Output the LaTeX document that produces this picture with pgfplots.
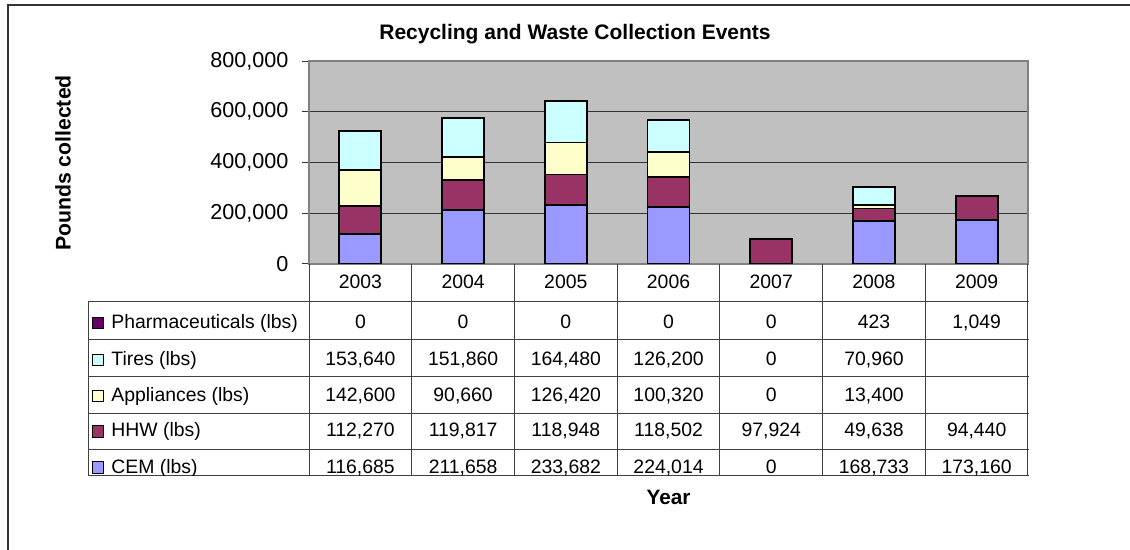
\documentclass[border=0pt]{standalone}
\usepackage{pgfplots}
\pgfplotsset{compat=1.18}
\usepackage{pgfplotstable}
\usepackage{fontspec}
\setmainfont{Liberation Sans}

\definecolor{cem}{HTML}{9999FF}
\definecolor{hhw}{HTML}{993366}
\definecolor{appl}{HTML}{FFFFCC}
\definecolor{tires}{HTML}{CCFFFF}
\definecolor{pharm}{HTML}{660066}
\definecolor{plotbg}{HTML}{C0C0C0}

% year index, pounds per category (blank 2009 cells plotted as 0)
\pgfplotstableread{
x cem    hhw    appl   tires  pharm
0 116685 112270 142600 153640 0
1 211658 119817 90660  151860 0
2 233682 118948 126420 164480 0
3 224014 118502 100320 126200 0
4 0      97924  0      0      0
5 168733 49638  13400  70960  423
6 173160 94440  0      0      1049
}\recycle

\newcommand{\tabfont}{\fontsize{9.7}{11}\selectfont}

\begin{document}
\begin{tikzpicture}
\begin{axis}[
    at={(154.5pt,-132pt)}, anchor=south west,
    scale only axis, width=359.5pt, height=101.5pt,
    xmin=-0.5, xmax=6.5, ymin=0, ymax=800000,
    ybar stacked, bar width=21pt,
    xtick=\empty,
    ytick={0,200000,400000,600000,800000},
    ytick pos=left,
    scaled y ticks=false,
    ticklabel style={font=\fontsize{10.8}{12}\selectfont},
    yticklabel style={xshift=-3pt, /pgf/number format/.cd, fixed, 1000 sep={,}, assume math mode=true},
    axis background/.style={fill=plotbg},
    axis line style={draw=black!50, line width=0.6pt},
    ymajorgrids, grid style={black!80, line width=0.5pt},
    tick align=outside, major tick length=3.75pt,
    tick style={black!80, line width=0.5pt},
    every axis plot/.append style={draw=black, line width=0.9pt},
]
\addplot[fill=cem]   table[x=x, y=cem]   {\recycle};
\addplot[fill=hhw]   table[x=x, y=hhw]   {\recycle};
\addplot[fill=appl]  table[x=x, y=appl]  {\recycle};
\addplot[fill=tires] table[x=x, y=tires] {\recycle};
\addplot[fill=pharm] table[x=x, y=pharm] {\recycle};
\end{axis}

\begin{scope}[x=0.5pt, y=-0.5pt]
  % outer chart frame (only top and left visible)
  \draw[black!80, line width=1pt] (8,550) -- (8,5) -- (1130,5);

  \node[font=\bfseries\fontsize{10.5}{12}\selectfont, anchor=base] at (575,40) {Recycling and Waste Collection Events};
  \node[font=\bfseries\fontsize{10.6}{12}\selectfont, rotate=90] at (63,163) {Pounds collected};
  \node[font=\bfseries\fontsize{10.4}{12}\selectfont, anchor=base] at (668.5,504) {Year};

  % data table grid
  \begin{scope}[black!75, line width=0.5pt]
    \foreach \yy in {302,340,377,414,450,476} \draw (88,\yy) -- (1029,\yy);
    \foreach \k in {0,...,7} \draw ({309+\k*102.71},264) -- ({309+\k*102.71},476);
    \draw (88,302) -- (88,476);
  \end{scope}

  \begin{scope}[font=\tabfont]
    \foreach \v [count=\i from 0] in {2003,2004,2005,2006,2007,2008,2009}
      \node[anchor=base] at ({360.4+\i*102.71},288.5) {\v};

    % row labels with legend keys
    \foreach \lab/\col/\b in {Pharmaceuticals (lbs)/pharm/328.5, Tires (lbs)/tires/365.5, Appliances (lbs)/appl/401.5, HHW (lbs)/hhw/437}{
      \draw[black, line width=0.5pt, fill=\col] (92.5,\b-11) rectangle (103,\b+0.5);
      \node[anchor=base west, inner sep=0pt] at (111,\b) {\lab};
    }

    \foreach \v [count=\i from 0] in {0,0,0,0,0,423,{1,049}}
      \node[anchor=base] at ({360.4+\i*102.71},328.5) {\v};
    \foreach \v [count=\i from 0] in {{153,640},{151,860},{164,480},{126,200},0,{70,960},{}}
      \node[anchor=base] at ({360.4+\i*102.71},365.5) {\v};
    \foreach \v [count=\i from 0] in {{142,600},{90,660},{126,420},{100,320},0,{13,400},{}}
      \node[anchor=base] at ({360.4+\i*102.71},401.5) {\v};
    \foreach \v [count=\i from 0] in {{112,270},{119,817},{118,948},{118,502},{97,924},{49,638},{94,440}}
      \node[anchor=base] at ({360.4+\i*102.71},437) {\v};

    % bottom row is cut off by the table edge, as in the original
    \begin{scope}
      \clip (88,451) rectangle (1029,476);
      \draw[black, line width=0.5pt, fill=cem] (92.5,462) rectangle (103,473.5);
      \node[anchor=base west, inner sep=0pt] at (111,473.5) {CEM (lbs)};
      \foreach \v [count=\i from 0] in {{116,685},{211,658},{233,682},{224,014},0,{168,733},{173,160}}
        \node[anchor=base] at ({360.4+\i*102.71},473.5) {\v};
    \end{scope}
  \end{scope}
\end{scope}

\pgfresetboundingbox
\path (0pt,0pt) rectangle (565pt,-275pt);
\end{tikzpicture}
\end{document}
